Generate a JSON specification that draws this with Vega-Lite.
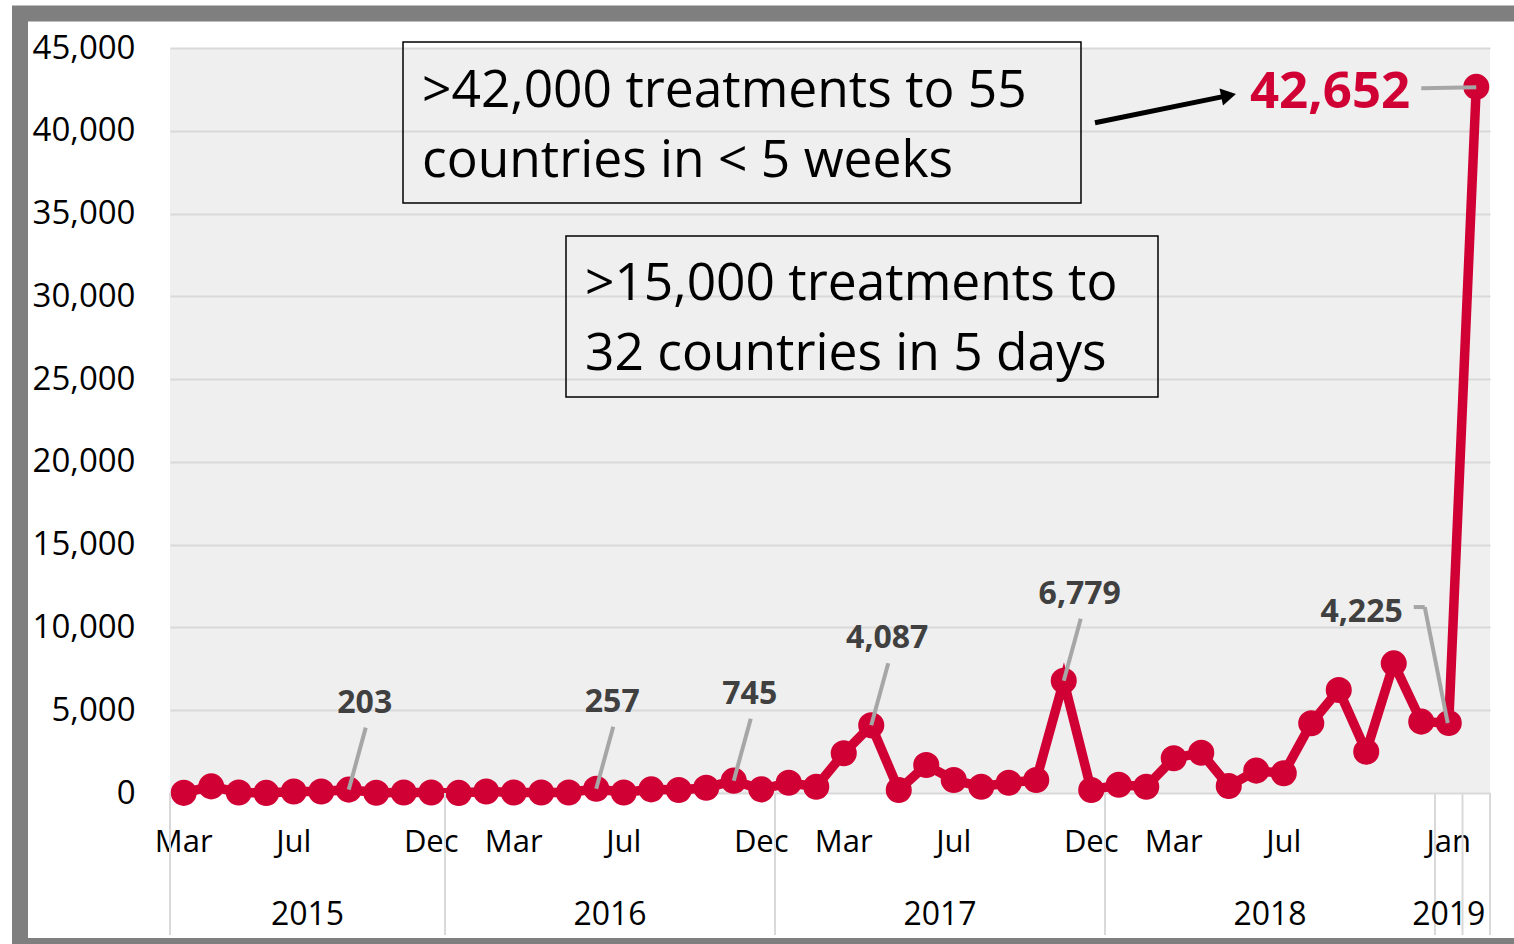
{
  "$schema": "https://vega.github.io/schema/vega-lite/v6.json",
  "width": 1320,
  "height": 745,
  "autosize": {"type": "none"},
  "padding": {"left": 170, "top": 48, "right": 24, "bottom": 151},
  "background": "white",
  "config": {"font": "Open Sans", "view": {"fill": "#efefef", "stroke": null}},
  "datasets": {
    "treat": [
      {"month": "2015-03", "value": 10}, {"month": "2015-04", "value": 400}, {"month": "2015-05", "value": 30},
      {"month": "2015-06", "value": 5}, {"month": "2015-07", "value": 90}, {"month": "2015-08", "value": 90},
      {"month": "2015-09", "value": 203}, {"month": "2015-10", "value": 15}, {"month": "2015-11", "value": 30},
      {"month": "2015-12", "value": 30}, {"month": "2016-01", "value": 5}, {"month": "2016-02", "value": 90},
      {"month": "2016-03", "value": 30}, {"month": "2016-04", "value": 30}, {"month": "2016-05", "value": 30},
      {"month": "2016-06", "value": 257}, {"month": "2016-07", "value": 30}, {"month": "2016-08", "value": 220},
      {"month": "2016-09", "value": 180}, {"month": "2016-10", "value": 320}, {"month": "2016-11", "value": 745},
      {"month": "2016-12", "value": 220}, {"month": "2017-01", "value": 620}, {"month": "2017-02", "value": 380},
      {"month": "2017-03", "value": 2400}, {"month": "2017-04", "value": 4087}, {"month": "2017-05", "value": 180},
      {"month": "2017-06", "value": 1690}, {"month": "2017-07", "value": 785}, {"month": "2017-08", "value": 380},
      {"month": "2017-09", "value": 620}, {"month": "2017-10", "value": 785}, {"month": "2017-11", "value": 6779},
      {"month": "2017-12", "value": 180}, {"month": "2018-01", "value": 500}, {"month": "2018-02", "value": 380},
      {"month": "2018-03", "value": 2095}, {"month": "2018-04", "value": 2435}, {"month": "2018-05", "value": 420},
      {"month": "2018-06", "value": 1350}, {"month": "2018-07", "value": 1190}, {"month": "2018-08", "value": 4210},
      {"month": "2018-09", "value": 6220}, {"month": "2018-10", "value": 2495}, {"month": "2018-11", "value": 7830},
      {"month": "2018-12", "value": 4310}, {"month": "2019-01", "value": 4225}, {"month": "2019-02", "value": 42652}
    ],
    "years": [
      {"year": "2015", "anchor": "2015-08"}, {"year": "2016", "anchor": "2016-07"},
      {"year": "2017", "anchor": "2017-07"}, {"year": "2018", "anchor": "2018-07"},
      {"year": "2019", "anchor": "2019-01"}
    ]
  },
  "data": {"name": "treat"},
  "layer": [
    {
      "mark": {"type": "line", "color": "#D10034", "strokeWidth": 9.5},
      "encoding": {
        "x": {
          "field": "month", "type": "ordinal", "bandPosition": 0.5, "title": null,
          "scale": {"type": "band", "paddingInner": 0, "paddingOuter": 0},
          "axis": {
            "labelExpr": "indexof(['2015-03','2015-07','2015-12','2016-03','2016-07','2016-12','2017-03','2017-07','2017-12','2018-03','2018-07','2019-01'], datum.value) >= 0 ? monthAbbrevFormat(toNumber(substring(datum.value,5,7)) - 1) : ''",
            "labelAngle": 0, "labelFont": "Open Sans", "labelFontSize": 31, "labelColor": "#000000",
            "labelPadding": 34, "ticks": false, "tickSize": 0, "domain": false, "grid": false
          }
        },
        "y": {
          "field": "value", "type": "quantitative", "title": null,
          "scale": {"domain": [0, 45000], "nice": false},
          "axis": {
            "values": [0, 5000, 10000, 15000, 20000, 25000, 30000, 35000, 40000, 45000],
            "format": ",.0f", "labelFont": "Open Sans", "labelFontSize": 33, "labelColor": "#000000",
            "labelPadding": 35, "ticks": false, "tickSize": 0, "domain": false,
            "grid": true, "gridColor": "#d9d9d9", "gridWidth": 2
          }
        }
      }
    },
    {
      "mark": {"type": "point", "filled": true, "shape": "circle", "size": 680, "color": "#D10034", "opacity": 1},
      "encoding": {
        "x": {"field": "month", "type": "ordinal", "bandPosition": 0.5, "title": null},
        "y": {"field": "value", "type": "quantitative", "title": null}
      }
    },
    {
      "transform": [{"filter": {"field": "month", "oneOf": ["2015-03", "2016-01", "2017-01", "2018-01", "2019-01", "2019-02"]}}],
      "mark": {"type": "rule", "color": "#d9d9d9", "strokeWidth": 2},
      "encoding": {
        "x": {"field": "month", "type": "ordinal", "bandPosition": 0, "title": null},
        "y": {"datum": 0, "type": "quantitative"},
        "y2": {"datum": -8577}
      }
    },
    {
      "data": {"values": [{}]},
      "mark": {"type": "rule", "color": "#d9d9d9", "strokeWidth": 2},
      "encoding": {
        "x": {"datum": "2019-02", "type": "ordinal", "bandPosition": 1},
        "y": {"datum": 0, "type": "quantitative"},
        "y2": {"datum": -8577}
      }
    },
    {
      "transform": [{"filter": {"field": "month", "oneOf": ["2015-09", "2016-06", "2016-11", "2017-04", "2017-11"]}}],
      "mark": {"type": "rule", "color": "#a6a6a6", "strokeWidth": 4, "x2Offset": 17, "y2Offset": -62},
      "encoding": {
        "x": {"field": "month", "type": "ordinal", "bandPosition": 0.5, "title": null},
        "x2": {"field": "month", "bandPosition": 0.5},
        "y": {"field": "value", "type": "quantitative"},
        "y2": {"field": "value"}
      }
    },
    {
      "transform": [{"filter": {"field": "month", "oneOf": ["2015-09", "2016-06", "2016-11", "2017-04", "2017-11"]}}],
      "mark": {"type": "text", "font": "Open Sans", "fontWeight": "bold", "fontSize": 32, "color": "#404040", "dx": 16, "dy": -77, "baseline": "alphabetic", "align": "center"},
      "encoding": {
        "x": {"field": "month", "type": "ordinal", "bandPosition": 0.5, "title": null},
        "y": {"field": "value", "type": "quantitative"},
        "text": {"field": "value", "type": "quantitative", "format": ",.0f"}
      }
    },
    {
      "transform": [{"filter": {"field": "month", "equal": "2019-01"}}],
      "mark": {"type": "rule", "color": "#a6a6a6", "strokeWidth": 4, "xOffset": -1, "x2Offset": -24, "y2Offset": -116},
      "encoding": {
        "x": {"field": "month", "type": "ordinal", "bandPosition": 0.5, "title": null},
        "x2": {"field": "month", "bandPosition": 0.5},
        "y": {"field": "value", "type": "quantitative"},
        "y2": {"field": "value"}
      }
    },
    {
      "transform": [{"filter": {"field": "month", "equal": "2019-01"}}],
      "mark": {"type": "rule", "color": "#a6a6a6", "strokeWidth": 4, "xOffset": -24, "x2Offset": -35, "yOffset": -116, "y2Offset": -116},
      "encoding": {
        "x": {"field": "month", "type": "ordinal", "bandPosition": 0.5, "title": null},
        "x2": {"field": "month", "bandPosition": 0.5},
        "y": {"field": "value", "type": "quantitative"},
        "y2": {"field": "value"}
      }
    },
    {
      "transform": [{"filter": {"field": "month", "equal": "2019-01"}}],
      "mark": {"type": "text", "font": "Open Sans", "fontWeight": "bold", "fontSize": 32, "color": "#404040", "dx": -46, "dy": -101, "baseline": "alphabetic", "align": "right"},
      "encoding": {
        "x": {"field": "month", "type": "ordinal", "bandPosition": 0.5, "title": null},
        "y": {"field": "value", "type": "quantitative"},
        "text": {"field": "value", "type": "quantitative", "format": ",.0f"}
      }
    },
    {
      "transform": [{"filter": {"field": "month", "equal": "2019-02"}}],
      "mark": {"type": "rule", "color": "#a6a6a6", "strokeWidth": 4, "xOffset": -55, "x2Offset": 0, "yOffset": 1.5, "y2Offset": 0.5},
      "encoding": {
        "x": {"field": "month", "type": "ordinal", "bandPosition": 0.5, "title": null},
        "x2": {"field": "month", "bandPosition": 0.5},
        "y": {"field": "value", "type": "quantitative"},
        "y2": {"field": "value"}
      }
    },
    {
      "transform": [{"filter": {"field": "month", "equal": "2019-02"}}],
      "mark": {"type": "text", "font": "Open Sans", "fontWeight": "bold", "fontSize": 51, "color": "#D10034", "dx": -66, "dy": 21, "baseline": "alphabetic", "align": "right"},
      "encoding": {
        "x": {"field": "month", "type": "ordinal", "bandPosition": 0.5, "title": null},
        "y": {"field": "value", "type": "quantitative"},
        "text": {"field": "value", "type": "quantitative", "format": ",.0f"}
      }
    },
    {
      "data": {"name": "years"},
      "transform": [{"filter": "datum.year != '2019'"}],
      "mark": {"type": "text", "font": "Open Sans", "fontSize": 32, "color": "#000000", "baseline": "alphabetic", "align": "center"},
      "encoding": {
        "x": {"field": "anchor", "type": "ordinal", "bandPosition": 0, "title": null},
        "y": {"datum": -7973, "type": "quantitative"},
        "text": {"field": "year", "type": "nominal"}
      }
    },
    {
      "data": {"name": "years"},
      "transform": [{"filter": "datum.year == '2019'"}],
      "mark": {"type": "text", "font": "Open Sans", "fontSize": 32, "color": "#000000", "baseline": "alphabetic", "align": "center"},
      "encoding": {
        "x": {"field": "anchor", "type": "ordinal", "bandPosition": 0.5, "title": null},
        "y": {"datum": -7973, "type": "quantitative"},
        "text": {"field": "year", "type": "nominal"}
      }
    },
    {
      "data": {"values": [{}]},
      "mark": {"type": "rect", "fillOpacity": 0, "fill": "white", "stroke": "#000000", "strokeWidth": 1.5},
      "encoding": {
        "x": {"datum": "2015-11", "type": "ordinal", "bandPosition": 0.473},
        "x2": {"datum": "2017-12", "bandPosition": 0.127},
        "y": {"datum": 45362, "type": "quantitative"},
        "y2": {"datum": 35637}
      }
    },
    {
      "data": {"values": [{}]},
      "mark": {"type": "rect", "fillOpacity": 0, "fill": "white", "stroke": "#000000", "strokeWidth": 1.5},
      "encoding": {
        "x": {"datum": "2016-05", "type": "ordinal", "bandPosition": 0.4},
        "x2": {"datum": "2018-02", "bandPosition": 0.927},
        "y": {"datum": 33645, "type": "quantitative"},
        "y2": {"datum": 23920}
      }
    },
    {
      "data": {"values": [{}]},
      "mark": {"type": "text", "text": [">42,000 treatments to 55", "countries in < 5 weeks"], "font": "Open Sans", "fontSize": 51.5, "lineHeight": 70, "align": "left", "baseline": "alphabetic", "color": "#000000"},
      "encoding": {
        "x": {"datum": "2015-12", "type": "ordinal", "bandPosition": 0.164},
        "y": {"datum": 41455, "type": "quantitative"}
      }
    },
    {
      "data": {"values": [{}]},
      "mark": {"type": "text", "text": [">15,000 treatments to", "32 countries in 5 days"], "font": "Open Sans", "fontSize": 51.5, "lineHeight": 70, "align": "left", "baseline": "alphabetic", "color": "#000000"},
      "encoding": {
        "x": {"datum": "2016-06", "type": "ordinal", "bandPosition": 0.09},
        "y": {"datum": 29779, "type": "quantitative"}
      }
    },
    {
      "data": {"values": [{}]},
      "mark": {"type": "rule", "color": "#000000", "strokeWidth": 5},
      "encoding": {
        "x": {"datum": "2017-12", "type": "ordinal", "bandPosition": 0.636},
        "x2": {"datum": "2018-05", "bandPosition": 0.29},
        "y": {"datum": 40488, "type": "quantitative"},
        "y2": {"datum": 42061}
      }
    },
    {
      "data": {"values": [{}]},
      "mark": {"type": "point", "shape": "triangle-right", "filled": true, "color": "#000000", "opacity": 1, "size": 300, "angle": 348.5},
      "encoding": {
        "x": {"datum": "2018-05", "type": "ordinal", "bandPosition": 0.495},
        "y": {"datum": 42131, "type": "quantitative"}
      }
    },
    {
      "data": {"values": [{}]},
      "mark": {"type": "rect", "fillOpacity": 0, "fill": "white", "stroke": "#7f7f7f", "strokeWidth": 16},
      "encoding": {
        "x": {"datum": "2015-03", "type": "ordinal", "bandPosition": -5.4545},
        "x2": {"datum": "2019-02", "bandPosition": 2.27},
        "y": {"datum": 47084, "type": "quantitative"},
        "y2": {"datum": -9242}
      }
    }
  ]
}
